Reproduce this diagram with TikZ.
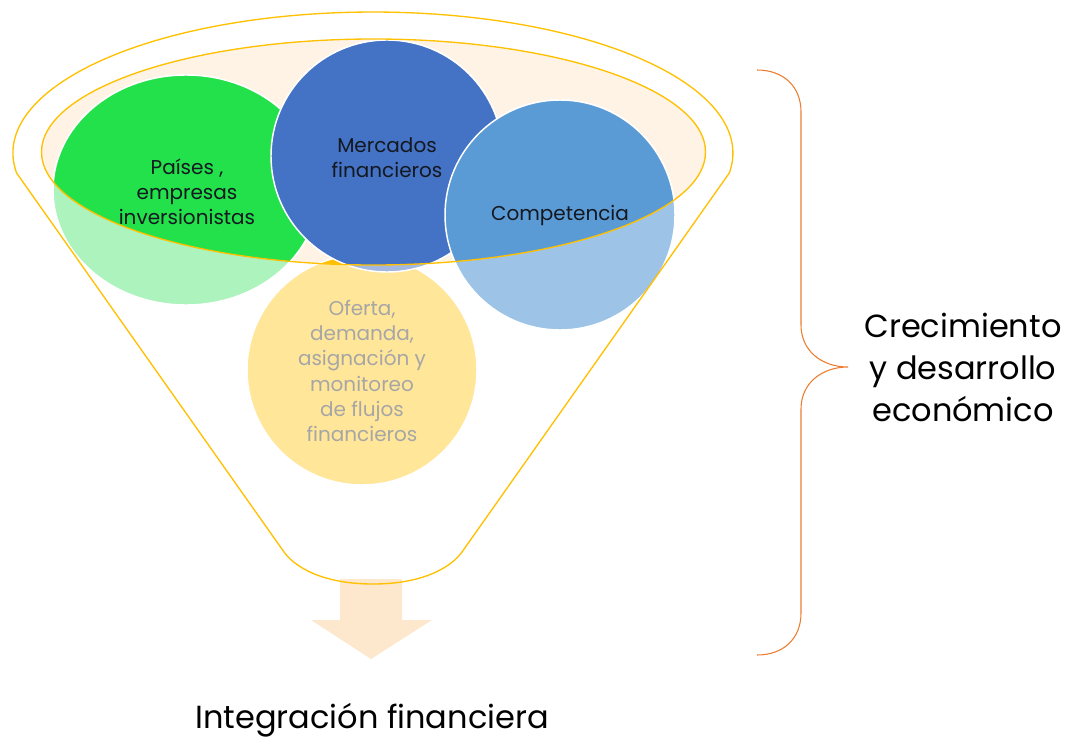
\documentclass[tikz,border=0pt]{standalone}
\usepackage{fontspec}
\setmainfont{Poppins}
\definecolor{gold}{HTML}{FFC000}
\definecolor{peach}{HTML}{FEF3E5}
\definecolor{arrowc}{HTML}{FEE8CD}
\definecolor{greenF}{HTML}{22E14B}
\definecolor{greenW}{HTML}{ADF3BD}
\definecolor{blueF}{HTML}{4472C4}
\definecolor{blueW}{HTML}{A2B8E1}
\definecolor{compF}{HTML}{5B9BD5}
\definecolor{compW}{HTML}{9DC3E6}
\definecolor{yelF}{HTML}{FFC000}
\definecolor{yelW}{HTML}{FFE699}
\definecolor{braceC}{HTML}{ED7D31}
\definecolor{txtdark}{HTML}{141820}
\definecolor{txtgray}{HTML}{A6A6A6}
\begin{document}
\begin{tikzpicture}[x=0.75pt,y=-0.75pt,
  bubble/.style={draw=white,line width=1.1pt},
  goldline/.style={draw=gold,line width=1pt},
  ctext/.style={align=center,inner sep=0pt,text=txtdark,font=\fontsize{15}{18.8}\selectfont},
  gtext/.style={align=center,inner sep=0pt,text=txtgray,font=\fontsize{15}{19}\selectfont},
  bigtext/.style={align=center,inner sep=0pt,text=black,font=\fontsize{24}{31.5}\selectfont}]
\useasboundingbox (0,0) rectangle (1067,742);
% arrow
\fill[arrowc] (340,579) -- (402,579) -- (402,620) -- (432,620) -- (371,659) -- (311,620) -- (340,620) -- cycle;
% inner ellipse fill
\fill[peach] (373.5,152) ellipse [x radius=332, y radius=113];
% washed circles
\filldraw[bubble,fill=greenW] (186,190) ellipse [x radius=133, y radius=115];
\filldraw[bubble,fill=yelW] (362,370) circle [radius=115];
\filldraw[bubble,fill=blueW] (387,156) circle [radius=116];
\filldraw[bubble,fill=compW] (560,215) circle [radius=115];
% full colours inside the inner ellipse
\begin{scope}
\clip (373.5,152) ellipse [x radius=332, y radius=113];
\filldraw[bubble,fill=greenF] (186,190) ellipse [x radius=133, y radius=115];
\filldraw[bubble,fill=yelF] (362,370) circle [radius=115];
\filldraw[bubble,fill=blueF] (387,156) circle [radius=116];
\filldraw[bubble,fill=compF] (560,215) circle [radius=115];
\end{scope}
\draw[goldline] (373.5,152) ellipse [x radius=332, y radius=113];
% funnel outline
\draw[goldline,line join=round] (16.6,173) arc[start angle=171.85, end angle=368.15, x radius=360, y radius=141]
  -- (462,552) .. controls (452,566) and (425,584) .. (373,584) .. controls (321,584) and (294,566) .. (284,552) -- cycle;
% texts
\node[ctext] (paises) at (187,192) {Países ,\\empresas\\inversionistas};
\node[ctext] (mercados) at (387,158) {Mercados\\financieros};
\node[ctext] (comp) at (560,215) {Competencia};
\node[gtext] (oferta) at (362,371) {Oferta,\\demanda,\\asignación y\\monitoreo\\de flujos\\financieros};
\node[bigtext] (crec) at (963,367) {Crecimiento\\y desarrollo\\económico};
\node[bigtext,anchor=base] (integ) at (372,728) {Integración financiera};
% brace
\draw[braceC,line width=0.8pt] (757,70) .. controls (783,70) and (801,86) .. (801,112) -- (801,325)
  .. controls (801,351) and (822,367) .. (848,367) .. controls (822,367) and (801,383) .. (801,409)
  -- (801,613) .. controls (801,639) and (783,655) .. (757,655);
\end{tikzpicture}
\end{document}
